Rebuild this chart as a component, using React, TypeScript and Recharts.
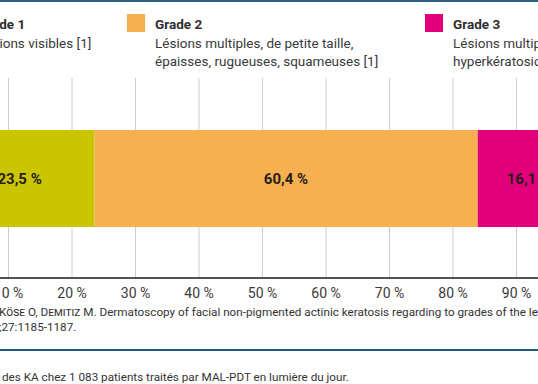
import React from 'react';
import { BarChart, Bar, XAxis, YAxis, CartesianGrid, LabelList } from 'recharts';

const grades = ['Grade 1', 'Grade 2', 'Grade 3'];
const gradeLines = [
  ['Lésions visibles [1]'],
  ['Lésions multiples, de petite taille,', 'épaisses, rugueuses, squameuses [1]'],
  ['Lésions multiples, très épaisses,', 'hyperkératosiques [1]'],
];
const shares = [23.5, 60.4, 16.1];
const COLORS = ['#c9c500', '#f6b04f', '#e1007a'];
const xTicks = [0, 10, 20, 30, 40, 50, 60, 70, 80, 90, 100];

// legend column offsets (x of the coloured square)
const legendLeft = [-50, 127, 425];

const row: Record<string, any> = { name: 'KA' };
shares.forEach((v, i) => { row[`g${i}`] = v; });
const data = [row];

const fmtPct = (v: any) => `${String(v).replace('.', ',')} %`;

const App: React.FC = () => {
  return (
    <div style={{
      position: 'absolute', top: 0, left: 0, width: 538, height: 384,
      overflow: 'hidden', background: '#fff', fontFamily: 'Roboto, sans-serif', color: '#333'
    }}>
      {/* top rule */}
      <div style={{ position: 'absolute', top: 0, left: 0, width: 538, height: 2, background: '#2d5e82' }} />

      {/* Legend */}
      {grades.map((g, i) => (
        <div key={g} style={{ position: 'absolute', top: 14, left: legendLeft[i], display: 'flex', gap: 10 }}>
          <span style={{ width: 18, height: 18, background: COLORS[i], flexShrink: 0 }} />
          <div style={{ fontSize: 13.5, lineHeight: '18.5px', whiteSpace: 'nowrap', marginTop: 1 }}>
            <div style={{ fontWeight: 700, color: '#2e2e2e' }}>{g}</div>
            {gradeLines[i].map((l) => <div key={l} style={{ color: '#3a3a3a' }}>{l}</div>)}
          </div>
        </div>
      ))}

      {/* Chart */}
      <div style={{ position: 'absolute', top: 77, left: -55 }}>
        <BarChart
          width={635}
          height={231}
          data={data}
          layout="vertical"
          margin={{ top: 1, right: 0, bottom: 0, left: 0 }}
        >
          <CartesianGrid horizontal={false} stroke="#cccccc" />
          <XAxis
            type="number"
            domain={[0, 100]}
            ticks={xTicks}
            tickFormatter={(v) => `${v} %`}
            tickLine={false}
            tickMargin={4}
            axisLine={{ stroke: '#1a1a1a', strokeWidth: 1.5 }}
            tick={{ fontSize: 14, fill: '#3a3a3a' }}
            height={30}
            interval={0}
          />
          <XAxis
            xAxisId="top"
            orientation="top"
            type="number"
            domain={[0, 100]}
            ticks={xTicks}
            tick={false}
            tickLine={false}
            axisLine={{ stroke: '#cccccc' }}
            height={0}
          />
          <YAxis type="category" dataKey="name" hide />
          {shares.map((_, i) => (
            <Bar key={i} dataKey={`g${i}`} stackId="a" fill={COLORS[i]} barSize={97} isAnimationActive={false}>
              <LabelList
                dataKey={`g${i}`}
                position="center"
                formatter={fmtPct}
                style={{ fontSize: 15, fontWeight: 700, fill: '#2a1c1c' }}
              />
            </Bar>
          ))}
        </BarChart>
      </div>

      {/* Source */}
      <div style={{ position: 'absolute', top: 305, left: -1, fontSize: 11.7, lineHeight: '15px', whiteSpace: 'nowrap', color: '#333' }}>
        <div>
          K<span style={{ fontVariant: 'small-caps' }}>öse</span> O, D<span style={{ fontVariant: 'small-caps' }}>emitiz</span> M. Dermatoscopy of facial non-pigmented actinic keratosis regarding to grades of the lesions.
        </div>
        <div>;27:1185-1187.</div>
      </div>

      {/* bottom rule */}
      <div style={{ position: 'absolute', top: 349, left: 0, width: 538, height: 2, background: '#1f5a7c' }} />

      {/* Caption */}
      <div style={{ position: 'absolute', top: 369, left: 2, fontSize: 11.7, lineHeight: '16px', whiteSpace: 'nowrap', color: '#333' }}>
        des KA chez 1 083 patients traités par MAL-PDT en lumière du jour.
      </div>
    </div>
  );
};

export default App;
